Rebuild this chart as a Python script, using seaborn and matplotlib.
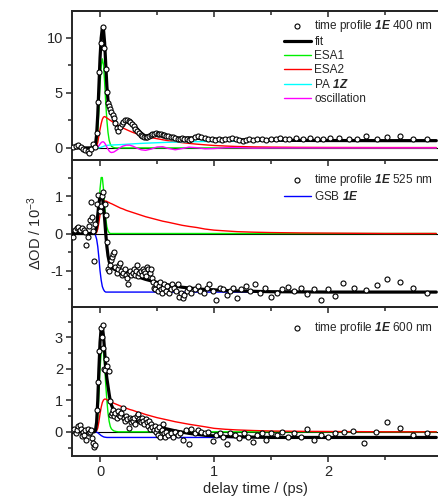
import matplotlib
matplotlib.use("Agg")
import matplotlib.pyplot as plt
from matplotlib.ticker import MultipleLocator
import seaborn as sns

# ---- common time grid of the fitted curves (ps) ----
t_curve = [-0.25, -0.06, -0.05, -0.04, -0.03, -0.02, -0.01, 0.0,
           0.01, 0.02, 0.03, 0.04, 0.05, 0.06, 0.07, 0.08, 0.09, 0.10,
           0.12, 0.14, 0.16, 0.18, 0.20, 0.23, 0.26, 0.29, 0.32, 0.36,
           0.40, 0.45, 0.50, 0.55, 0.60, 0.66, 0.72, 0.78, 0.85, 0.92,
           1.0, 1.1, 1.2, 1.35, 1.5, 1.75, 2.0, 2.5, 2.95]

# ---- 400 nm ----
t_400 = [-0.237, -0.21, -0.19, -0.17, -0.15, -0.13, -0.11, -0.097, -0.075, -0.06, -0.045,
         -0.03, -0.02, -0.01, 0.005, 0.022, 0.038, 0.05, 0.06, 0.07, 0.08, 0.09, 0.10, 0.11,
         0.12, 0.13, 0.145, 0.16, 0.175, 0.19, 0.205, 0.22, 0.235, 0.25, 0.265, 0.28, 0.295,
         0.31, 0.325, 0.34, 0.355, 0.37, 0.385, 0.40, 0.415, 0.43, 0.445, 0.46, 0.475, 0.49,
         0.505, 0.52, 0.535, 0.55, 0.565, 0.58, 0.60, 0.62, 0.64, 0.66, 0.68, 0.70, 0.72,
         0.74, 0.76, 0.78, 0.80, 0.83, 0.86, 0.89, 0.92, 0.95, 0.98, 1.01, 1.04, 1.07, 1.10,
         1.13, 1.16, 1.19, 1.22, 1.25, 1.28, 1.31, 1.34, 1.38, 1.42, 1.46, 1.50, 1.54, 1.58,
         1.62, 1.66, 1.72, 1.78, 1.84, 1.90, 1.96, 2.02, 2.10, 2.18, 2.25, 2.33, 2.43, 2.52,
         2.63, 2.75, 2.87]
v_400 = [0.08, 0.2, 0.3, 0.1, -0.1, -0.15, -0.3, -0.5, -0.07, 0.35, 0.05,
         1.4, 4.2, 6.9, 9.5, 11.0, 9.1, 7.2, 5.1, 4.1, 3.8, 3.5, 3.3, 3.0,
         2.7, 2.3, 1.8, 1.55, 1.9, 2.2, 2.4, 2.55, 2.5, 2.45, 2.35, 2.2, 1.95,
         1.75, 1.55, 1.35, 1.2, 1.1, 1.0, 0.95, 1.0, 1.1, 1.2, 1.25, 1.3, 1.35,
         1.3, 1.25, 1.3, 1.2, 1.15, 1.1, 1.05, 1.0, 0.95, 0.9, 0.85, 0.8, 0.9,
         0.85, 0.8, 0.75, 0.85, 0.95, 1.1, 1.0, 0.9, 0.85, 0.8, 0.75, 0.85, 0.75, 0.85,
         0.8, 0.9, 0.8, 0.75, 0.65, 0.75, 0.8, 0.75, 0.85, 0.8, 0.7, 0.85, 0.8, 0.9,
         0.8, 0.8, 0.9, 0.8, 0.9, 0.85, 0.8, 0.9, 0.9, 0.85, 0.8, 1.05, 0.8, 0.95,
         1.05, 0.8, 0.8]
fit_400 = [0, 0, 0.05, 0.3, 1.2, 3.0, 5.6, 8.2,
           10.0, 10.9, 10.8, 9.6, 7.6, 5.6, 4.3, 3.7, 3.4, 3.2,
           2.7, 2.1, 1.75, 1.85, 2.15, 2.45, 2.45, 2.2, 1.8, 1.35,
           1.05, 1.15, 1.3, 1.2, 1.05, 0.9, 0.88, 0.92, 0.88, 0.8,
           0.8, 0.78, 0.74, 0.72, 0.7, 0.68, 0.67, 0.66, 0.66]
esa1_400 = [0, 0, 0, 0.05, 0.4, 1.5, 3.5, 5.8,
            7.4, 8.1, 7.6, 6.0, 4.1, 2.5, 1.4, 0.7, 0.35, 0.15,
            0.03, 0, 0, 0, 0, 0, 0, 0, 0, 0,
            0, 0, 0, 0, 0, 0, 0, 0, 0, 0,
            0, 0, 0, 0, 0, 0, 0, 0, 0]
esa2_400 = [0, 0, 0, 0.02, 0.15, 0.5, 1.1, 1.7,
            2.2, 2.6, 2.8, 2.85, 2.8, 2.72, 2.65, 2.58, 2.5, 2.44,
            2.3, 2.17, 2.05, 1.93, 1.82, 1.67, 1.53, 1.4, 1.29, 1.16,
            1.04, 0.93, 0.84, 0.74, 0.65, 0.56, 0.48, 0.41, 0.34, 0.28,
            0.22, 0.17, 0.13, 0.09, 0.07, 0.05, 0.04, 0.03, 0.03]
pa_400 = [0, 0, 0, 0, 0, 0, 0.01, 0.03,
          0.06, 0.1, 0.14, 0.18, 0.21, 0.23, 0.24, 0.25, 0.26, 0.26,
          0.27, 0.28, 0.29, 0.3, 0.31, 0.33, 0.35, 0.37, 0.39, 0.41,
          0.43, 0.45, 0.47, 0.49, 0.51, 0.53, 0.55, 0.56, 0.57, 0.58,
          0.59, 0.6, 0.61, 0.62, 0.62, 0.63, 0.63, 0.63, 0.63]
osc_400 = [0, 0, 0, 0, 0.02, 0.08, 0.2, 0.35,
           0.48, 0.55, 0.55, 0.45, 0.28, 0.08, -0.12, -0.28, -0.38, -0.42,
           -0.38, -0.25, -0.1, 0.05, 0.16, 0.25, 0.25, 0.15, 0.0, -0.17,
           -0.22, -0.1, 0.08, 0.11, -0.05, -0.17, -0.06, 0.07, 0.02, -0.08,
           -0.06, 0.02, 0.03, -0.02, 0, 0, 0, 0, 0]

# ---- 525 nm ----
t_525 = [-0.235, -0.22, -0.205, -0.19, -0.175, -0.16, -0.145, -0.13, -0.12, -0.11, -0.10,
         -0.09, -0.08, -0.07, -0.06, -0.05, -0.04, -0.03, -0.015, 0.0, 0.01, 0.02, 0.03,
         0.04, 0.05, 0.058, 0.067, 0.075, 0.085, 0.095, 0.105, 0.115, 0.125, 0.135, 0.145,
         0.155, 0.165, 0.175, 0.185, 0.195, 0.205, 0.215, 0.225, 0.235, 0.245, 0.255, 0.265,
         0.275, 0.285, 0.295, 0.305, 0.315, 0.325, 0.335, 0.345, 0.355, 0.365, 0.375, 0.385,
         0.395, 0.405, 0.415, 0.425, 0.435, 0.445, 0.455, 0.465, 0.475, 0.485, 0.495, 0.505,
         0.515, 0.525, 0.535, 0.545, 0.555, 0.565, 0.575, 0.59, 0.605, 0.62, 0.635, 0.65,
         0.665, 0.68, 0.695, 0.71, 0.725, 0.74, 0.76, 0.78, 0.80, 0.83, 0.86, 0.88, 0.91,
         0.94, 0.96, 0.99, 1.02, 1.05, 1.08, 1.11, 1.14, 1.17, 1.20, 1.24, 1.28, 1.32, 1.36,
         1.40, 1.45, 1.50, 1.55, 1.60, 1.65, 1.70, 1.76, 1.82, 1.88, 1.94, 2.00, 2.06, 2.13,
         2.23, 2.33, 2.43, 2.52, 2.63, 2.75, 2.87]
v_525 = [-0.1, 0.1, 0.15, 0.17, 0.1, 0.15, 0.1, 0.05, -0.32, -0.1, 0.2,
         0.35, 0.85, 0.45, 0.08, -0.73, 0.25, 0.8, 1.03, 0.6, 0.75, 1.0, 1.12,
         0.8, 0.5, -0.23, -0.95, -1.0, -0.85, -0.7, -0.62, -0.55, -0.5, -0.9, -1.05,
         -0.95, -0.85, -0.78, -1.0, -1.1, -1.05, -0.95, -1.1, -1.2, -1.36, -1.05, -1.0,
         -1.1, -1.05, -0.95, -1.1, -1.0, -0.85, -1.15, -1.05, -1.0, -1.1, -0.95, -1.0,
         -1.05, -1.15, -0.9, -0.95, -1.05, -0.95, -1.2, -1.3, -1.45, -1.5, -1.35, -1.55,
         -1.4, -1.3, -1.5, -1.6, -1.45, -1.35, -1.55, -1.4, -1.6, -1.5, -1.35, -1.45,
         -1.55, -1.35, -1.7, -1.6, -1.72, -1.65, -1.55, -1.45, -1.6, -1.5, -1.4, -1.54, -1.6,
         -1.45, -1.35, -1.55, -1.77, -1.45, -1.5, -1.65, -1.55, -1.45, -1.72, -1.5, -1.4, -1.55, -1.36,
         -1.6, -1.45, -1.7, -1.6, -1.5, -1.43, -1.55, -1.45, -1.63, -1.48, -1.77, -1.5, -1.67, -1.34,
         -1.46, -1.52, -1.38, -1.23, -1.3, -1.45, -1.59]
fit_525 = [0, 0, 0, 0.05, 0.2, 0.5, 0.8, 1.0,
           1.05, 0.98, 0.75, 0.4, 0.0, -0.35, -0.6, -0.75, -0.84, -0.89,
           -0.95, -0.98, -1.0, -1.02, -1.04, -1.07, -1.09, -1.12, -1.15, -1.19,
           -1.23, -1.27, -1.31, -1.35, -1.38, -1.41, -1.44, -1.46, -1.48, -1.5,
           -1.51, -1.53, -1.54, -1.55, -1.56, -1.565, -1.57, -1.57, -1.57]
esa1_525 = [0, 0, 0, 0, 0.05, 0.25, 0.7, 1.2,
            1.5, 1.5, 1.2, 0.75, 0.4, 0.18, 0.07, 0.02, 0, 0,
            0, 0, 0, 0, 0, 0, 0, 0, 0, 0,
            0, 0, 0, 0, 0, 0, 0, 0, 0, 0,
            0, 0, 0, 0, 0, 0, 0, 0, 0]
esa2_525 = [0, 0, 0, 0, 0.03, 0.12, 0.3, 0.5,
            0.66, 0.77, 0.84, 0.87, 0.87, 0.86, 0.84, 0.83, 0.81, 0.8,
            0.77, 0.74, 0.71, 0.68, 0.66, 0.62, 0.59, 0.56, 0.53, 0.49,
            0.45, 0.41, 0.37, 0.33, 0.3, 0.26, 0.22, 0.19, 0.16, 0.12,
            0.09, 0.07, 0.05, 0.035, 0.025, 0.015, 0.01, 0.0, 0.0]
gsb_525 = [0, 0, 0, -0.05, -0.15, -0.35, -0.65, -1.0,
           -1.25, -1.42, -1.5, -1.55, -1.57, -1.57, -1.57, -1.57, -1.57, -1.57,
           -1.57, -1.57, -1.57, -1.57, -1.57, -1.57, -1.57, -1.57, -1.57, -1.57,
           -1.57, -1.57, -1.57, -1.57, -1.57, -1.57, -1.57, -1.57, -1.57, -1.57,
           -1.57, -1.57, -1.57, -1.57, -1.57, -1.57, -1.57, -1.57, -1.57]

# ---- 600 nm ----
t_600 = [-0.235, -0.225, -0.21, -0.20, -0.19, -0.18, -0.17, -0.16, -0.15, -0.14, -0.13,
         -0.12, -0.11, -0.10, -0.09, -0.08, -0.07, -0.06, -0.05, -0.04, -0.03, -0.02, -0.01,
         0.005, 0.015, 0.023, 0.03, 0.038, 0.045, 0.055, 0.065, 0.075, 0.088, 0.095, 0.105,
         0.115, 0.125, 0.135, 0.145, 0.155, 0.165, 0.175, 0.185, 0.20, 0.21, 0.22, 0.23,
         0.24, 0.25, 0.26, 0.27, 0.28, 0.29, 0.30, 0.31, 0.32, 0.33, 0.34, 0.35, 0.36, 0.37,
         0.38, 0.39, 0.40, 0.41, 0.42, 0.43, 0.44, 0.45, 0.46, 0.47, 0.48, 0.49, 0.50, 0.51,
         0.52, 0.53, 0.54, 0.55, 0.56, 0.57, 0.58, 0.60, 0.62, 0.64, 0.66, 0.68, 0.70, 0.73,
         0.75, 0.78, 0.80, 0.83, 0.86, 0.89, 0.92, 0.95, 0.99, 1.02, 1.05, 1.08, 1.11, 1.14,
         1.18, 1.22, 1.26, 1.30, 1.34, 1.38, 1.42, 1.46, 1.50, 1.55, 1.60, 1.65, 1.70, 1.76,
         1.82, 1.88, 1.94, 2.00, 2.06, 2.14, 2.22, 2.32, 2.42, 2.52, 2.63, 2.75, 2.87]
v_600 = [0.06, 0.1, -0.04, 0.05, 0.17, 0.22, 0.1, -0.13, 0.0, -0.1, 0.05,
         -0.25, 0.1, -0.05, 0.0, 0.05, -0.2, -0.36, -0.47, -0.43, 0.7, 1.6, 2.57,
         3.29, 3.0, 3.4, 2.65, 2.0, 1.95, 2.3, 2.1, 1.93, 0.99, 0.55, 0.6,
         0.7, 0.5, 0.6, 0.45, 0.65, 0.55, 0.5, 0.6, 0.76, 0.45, 0.35, 0.5,
         0.4, 0.12, 0.45, 0.3, 0.4, 0.35, 0.45, 0.25, 0.5, 0.57, 0.4, 0.35, 0.3, 0.45,
         0.35, 0.25, 0.4, 0.3, 0.2, 0.35, 0.1, 0.25, 0.15, 0.05, 0.2, 0.0, 0.1, -0.1,
         0.15, -0.15, 0.05, 0.25, -0.05, -0.15, 0.0, -0.1, -0.05, -0.15, 0.0, -0.1, -0.05, -0.26,
         0.05, -0.38, 0.1, -0.05, 0.05, 0.0, -0.05, 0.0, -0.28, -0.1, -0.04, -0.15, -0.4, -0.05,
         -0.1, -0.2, -0.05, -0.15, -0.31, -0.1, -0.05, -0.25, -0.05, -0.1, 0.0, -0.15, -0.05, -0.15,
         0.1, -0.26, -0.1, -0.15, -0.05, 0.0, 0.04, -0.35, 0.0, 0.31, 0.12, -0.1, -0.05]
fit_600 = [0, 0, 0, 0.05, 0.3, 1.0, 2.0, 2.85,
           3.3, 3.35, 3.05, 2.6, 2.0, 1.7, 1.45, 1.2, 0.98, 0.85,
           0.68, 0.62, 0.57, 0.53, 0.5, 0.46, 0.42, 0.38, 0.35, 0.31,
           0.27, 0.22, 0.17, 0.12, 0.08, 0.03, -0.01, -0.05, -0.08, -0.11,
           -0.13, -0.15, -0.16, -0.17, -0.18, -0.18, -0.18, -0.18, -0.18]
esa1_600 = [0, 0, 0, 0, 0.1, 0.45, 1.2, 2.0,
            2.5, 2.7, 2.55, 2.1, 1.5, 1.0, 0.6, 0.33, 0.17, 0.09,
            0.03, 0.01, 0, 0, 0, 0, 0, 0, 0, 0,
            0, 0, 0, 0, 0, 0, 0, 0, 0, 0,
            0, 0, 0, 0, 0, 0, 0, 0, 0]
esa2_600 = [0, 0, 0, 0, 0.03, 0.12, 0.32, 0.57,
            0.78, 0.93, 1.01, 1.04, 1.04, 1.02, 1.0, 0.98, 0.96, 0.94,
            0.91, 0.88, 0.85, 0.82, 0.79, 0.75, 0.71, 0.68, 0.64, 0.6,
            0.55, 0.5, 0.45, 0.41, 0.37, 0.32, 0.28, 0.24, 0.2, 0.16,
            0.11, 0.08, 0.06, 0.04, 0.025, 0.015, 0.01, 0.0, 0.0]
gsb_600 = [0, 0, 0, 0, -0.01, -0.03, -0.06, -0.09,
           -0.12, -0.14, -0.16, -0.17, -0.175, -0.18, -0.18, -0.18, -0.18, -0.18,
           -0.18, -0.18, -0.18, -0.18, -0.18, -0.18, -0.18, -0.18, -0.18, -0.18,
           -0.18, -0.18, -0.18, -0.18, -0.18, -0.18, -0.18, -0.18, -0.18, -0.18,
           -0.18, -0.18, -0.18, -0.18, -0.18, -0.18, -0.18, -0.18, -0.18]

GREEN, RED, CYAN, MAGENTA, BLUE = "#00f000", "#ff0000", "#00ffff", "#ff00ff", "#0000ff"

sns.set_style("ticks")
plt.rcParams["font.family"] = ["Liberation Sans", "DejaVu Sans"]
plt.rcParams["mathtext.fontset"] = "custom"
plt.rcParams["mathtext.rm"] = "Liberation Sans"
plt.rcParams["mathtext.it"] = "Liberation Sans:italic"
plt.rcParams["mathtext.bf"] = "Liberation Sans:bold:italic"
plt.rcParams["axes.unicode_minus"] = False

fig = plt.figure(figsize=(4.38, 4.99), dpi=100)
left, width = 72 / 438, 1 - 72 / 438
ax1 = fig.add_axes([left, 1 - 160 / 499, width, 149 / 499])
ax2 = fig.add_axes([left, 1 - 307 / 499, width, 147 / 499])
ax3 = fig.add_axes([left, 1 - 456 / 499, width, 149 / 499])


def draw_panel(ax, t_pts, v_pts, pts_label, curves, fit, fit_label, legend_y):
    ax.set_facecolor("none")
    ax.axhline(0, color="black", lw=0.8, zorder=1)
    for vals, color, label in curves:
        sns.lineplot(x=t_curve, y=vals, ax=ax, color=color, lw=1.0, label=label,
                     errorbar=None, zorder=2)
    sns.lineplot(x=t_curve, y=fit, ax=ax, color="black", lw=2.3, label=fit_label,
                 errorbar=None, zorder=3)
    sns.scatterplot(x=t_pts, y=v_pts, ax=ax, marker="o", s=13, facecolor="white",
                    edgecolor="black", linewidth=0.8, label=pts_label, zorder=5)
    # legend: data first, then fit, then components
    handles, labels = ax.get_legend_handles_labels()
    n = len(handles)
    if fit_label:
        order = [n - 1, n - 2] + list(range(n - 2))
    else:
        order = [n - 1] + list(range(n - 1))
    ax.legend([handles[i] for i in order], [labels[i] for i in order],
              loc="upper right", bbox_to_anchor=(1.0, legend_y), frameon=False,
              fontsize=8.5, handlelength=2.3, handletextpad=0.3, labelspacing=0.17,
              borderaxespad=0.1, borderpad=0.3)


draw_panel(ax1, t_400, v_400, r"time profile $\mathbf{1E}$ 400 nm",
           [(esa1_400, GREEN, "ESA1"), (esa2_400, RED, "ESA2"),
            (pa_400, CYAN, r"PA $\mathbf{1Z}$"), (osc_400, MAGENTA, "oscillation")],
           fit_400, "fit", 0.985)
draw_panel(ax2, t_525, v_525, r"time profile $\mathbf{1E}$ 525 nm",
           [(esa1_525, GREEN, None), (esa2_525, RED, None), (gsb_525, BLUE, r"GSB $\mathbf{1E}$")],
           fit_525, None, 0.95)
draw_panel(ax3, t_600, v_600, r"time profile $\mathbf{1E}$ 600 nm",
           [(esa1_600, GREEN, None), (esa2_600, RED, None), (gsb_600, BLUE, None)],
           fit_600, None, 0.945)

ylims = [(-1.1, 12.45), (-1.97, 1.97), (-0.77, 3.97)]
ysteps = [(5, 2.5), (1, 0.5), (1, 0.5)]
for ax, yl, (maj, mnr) in zip([ax1, ax2, ax3], ylims, ysteps):
    ax.set_xlim(-0.246, 2.965)
    ax.set_ylim(*yl)
    ax.xaxis.set_major_locator(MultipleLocator(1))
    ax.xaxis.set_minor_locator(MultipleLocator(0.5))
    ax.yaxis.set_major_locator(MultipleLocator(maj))
    ax.yaxis.set_minor_locator(MultipleLocator(mnr))
    ax.tick_params(which="both", direction="out", width=1.1, labelsize=10.5, pad=2)
    ax.tick_params(which="major", length=4.5)
    ax.tick_params(which="minor", length=3)
    ax.spines["right"].set_visible(False)
    for s in ["left", "top", "bottom"]:
        ax.spines[s].set_linewidth(1.4)
    ax.set_xlabel("")
    ax.set_ylabel("")

ax1.tick_params(labelbottom=False)
ax2.tick_params(labelbottom=False)

top = ax1.secondary_xaxis("top")
top.xaxis.set_major_locator(MultipleLocator(1))
top.xaxis.set_minor_locator(MultipleLocator(0.5))
top.tick_params(which="both", direction="in", width=1.1, labeltop=False)
top.tick_params(which="major", length=4.5)
top.tick_params(which="minor", length=3)
top.spines["top"].set_linewidth(1.4)

ax2.set_ylabel(r"ΔOD / 10$^{-3}$", fontsize=10.5, labelpad=4)
ax3.set_xlabel("delay time / (ps)", fontsize=10.5, labelpad=2)

fig.savefig("out.png", dpi=100)
